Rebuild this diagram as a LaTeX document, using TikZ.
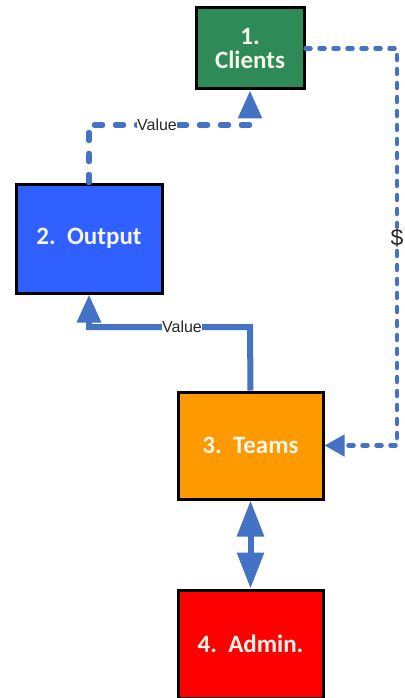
\documentclass[tikz,border=0pt]{standalone}
\usepackage{fontspec}
\setmainfont{Carlito}
\newfontfamily\lblfont{Liberation Sans}
\usetikzlibrary{arrows.meta}
\definecolor{cgreen}{RGB}{46,139,87}
\definecolor{cblue}{RGB}{48,96,255}
\definecolor{corange}{RGB}{255,153,0}
\definecolor{cred}{RGB}{255,0,0}
\definecolor{cline}{RGB}{68,114,196}
\definecolor{ctext}{RGB}{245,245,235}
\definecolor{clabel}{RGB}{40,40,40}
\tikzset{
  box/.style={draw=black, line width=3pt, align=center, text=ctext,
    font=\fontsize{25}{24}\selectfont\bfseries, inner sep=2pt},
  dashcon/.style={draw=cline, line width=5.5pt, line cap=round,
    dash pattern=on 8pt off 13pt},
  dotcon/.style={draw=cline, line width=4.5pt, line cap=round,
    dash pattern=on 5pt off 9pt},
  solidcon/.style={draw=cline, line width=6pt},
  tipbig/.style={-{Triangle[length=28pt,width=23pt]}},
  tipmid/.style={-{Triangle[length=20pt,width=21pt]}},
  lbl/.style={fill=white, inner sep=0.6pt, text=clabel,
    font=\lblfont\fontsize{16}{16}\selectfont},
  dollar/.style={fill=white, inner sep=1pt, text=clabel,
    font=\lblfont\fontsize{23}{23}\selectfont}
}
\begin{document}
\begin{tikzpicture}[x=1pt,y=-1pt]
\useasboundingbox (0,0) rectangle (404,698);
\node[box, fill=cgreen, minimum width=108pt, minimum height=81pt] (cli) at (250,48.5) {1.\\Clients};
\node[box, fill=cblue, minimum width=146pt, minimum height=109pt] (out) at (89,238.5) {2.\ \ Output};
\node[box, fill=corange, minimum width=145pt, minimum height=107pt] (tea) at (250.5,445.5) {3.\ \ Teams};
\node[box, fill=cred, minimum width=145pt, minimum height=108pt] (adm) at (250.5,644) {4.\ \ Admin.};
% Output -> Clients (dashed)
\coordinate (c1) at (89,125);
\draw[dashcon, tipbig] (out.north) -- (c1) -| (cli.south);
\node[lbl] (v1) at (157,125) {Value};
% Teams -> Output (solid)
\coordinate (c2) at (250,327);
\draw[solidcon, tipbig] (tea.north) -- (c2) -| (out.south);
\node[lbl] (v2) at (182,327) {Value};
% Clients -> Teams (dotted)
\coordinate (c3) at (397,48.5);
\draw[dotcon, tipmid] (cli.east) -- (c3) |- (tea.east);
\node[dollar] (d) at (397,238) {\$};
% Teams <-> Admin
\draw[solidcon, {Triangle[length=36pt,width=26pt]}-{Triangle[length=36pt,width=26pt]}] (tea.south) -- (adm.north);
\end{tikzpicture}
\end{document}
